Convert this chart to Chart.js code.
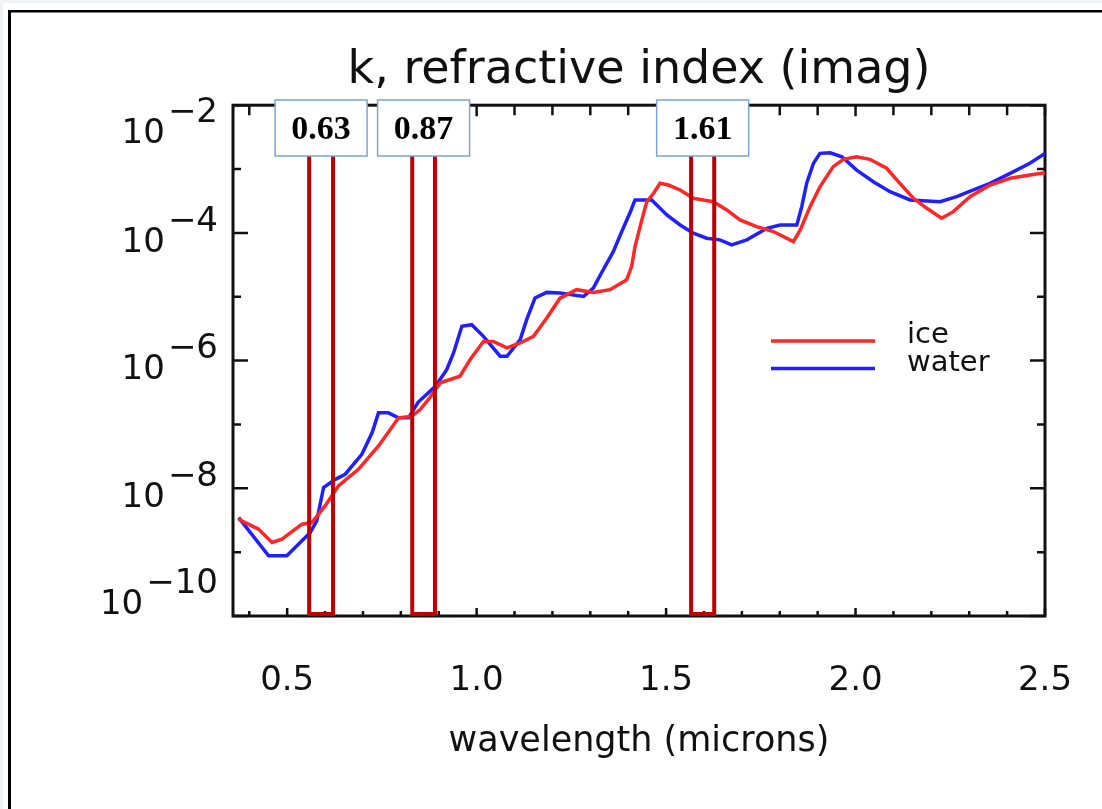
<!DOCTYPE html>
<html><head><meta charset="utf-8">
<script src="https://cdn.jsdelivr.net/npm/chart.js@4.4.0/dist/chart.umd.min.js"></script>
<style>html,body{margin:0;padding:0;background:#eef2f4;overflow:hidden}canvas{display:block}</style>
</head><body><canvas id="c" width="1102" height="809"></canvas>
<script>
// ---- data ----
const iceWavelength = [0.372,0.389,0.424,0.460,0.486,0.539,0.565,0.600,0.635,0.688,0.741,0.794,0.829,0.851,0.873,0.904,0.956,0.983,1.018,1.044,1.080,1.115,1.150,1.185,1.220,1.264,1.308,1.352,1.396,1.409,1.418,1.436,1.449,1.467,1.484,1.506,1.537,1.572,1.598,1.625,1.660,1.695,1.739,1.783,1.836,1.854,1.880,1.906,1.941,1.968,2.003,2.038,2.082,2.117,2.153,2.188,2.227,2.258,2.302,2.355,2.408,2.460,2.500];
const iceK = [3.3e-9,2.9e-9,2.3e-9,1.42e-9,1.6e-9,2.74e-9,2.91e-9,5.3e-9,1.09e-8,1.98e-8,4.6e-8,1.27e-7,1.35e-7,1.71e-7,2.46e-7,4.5e-7,5.7e-7,1.04e-6,2.0e-6,2.0e-6,1.58e-6,1.89e-6,2.4e-6,4.65e-6,9.5e-6,1.29e-5,1.17e-5,1.29e-5,1.85e-5,2.97e-5,6.1e-5,1.6e-4,3.08e-4,4.17e-4,5.98e-4,5.62e-4,4.7e-4,3.48e-4,3.28e-4,3.08e-4,2.29e-4,1.6e-4,1.25e-4,1.05e-4,7.3e-5,1.11e-4,2.58e-4,5.28e-4,1.09e-3,1.42e-3,1.56e-3,1.42e-3,1.03e-3,5.98e-4,3.48e-4,2.43e-4,1.7e-4,2.15e-4,3.69e-4,5.62e-4,7.16e-4,8.05e-4,8.75e-4];
const waterWavelength = [0.372,0.451,0.499,0.561,0.578,0.596,0.627,0.653,0.697,0.724,0.741,0.767,0.794,0.820,0.846,0.891,0.921,0.939,0.961,0.987,1.018,1.062,1.080,1.115,1.132,1.154,1.185,1.220,1.282,1.308,1.330,1.360,1.385,1.405,1.418,1.462,1.502,1.537,1.572,1.607,1.642,1.673,1.713,1.766,1.801,1.845,1.858,1.871,1.889,1.906,1.933,1.964,2.003,2.047,2.091,2.144,2.223,2.267,2.311,2.355,2.408,2.460,2.500];
const waterK = [3.48e-9,8.75e-10,8.75e-10,2.03e-9,3.09e-9,1.03e-8,1.38e-8,1.66e-8,3.4e-8,7.4e-8,1.52e-7,1.52e-7,1.27e-7,1.27e-7,2.24e-7,3.96e-7,7.2e-7,1.32e-6,3.44e-6,3.65e-6,2.4e-6,1.17e-6,1.17e-6,2.13e-6,4.38e-6,9.55e-6,1.17e-5,1.14e-5,1.01e-5,1.37e-5,2.4e-5,5.0e-5,1.12e-4,2.09e-4,3.28e-4,3.28e-4,1.91e-4,1.33e-4,9.9e-5,8.26e-5,7.78e-5,6.49e-5,7.78e-5,1.18e-4,1.33e-4,1.33e-4,2.58e-4,5.98e-4,1.23e-3,1.76e-3,1.8e-3,1.56e-3,9.64e-4,6.34e-4,4.42e-4,3.28e-4,3.08e-4,3.69e-4,4.7e-4,5.98e-4,8.57e-4,1.23e-3,1.76e-3];
const seriesNames = ['ice','water'];
const xTickValues = [0.5,1.0,1.5,2.0,2.5];
const xMinorTickValues = [0.4,0.6,0.7,0.8,0.9,1.1,1.2,1.3,1.4,1.6,1.7,1.8,1.9,2.1,2.2,2.3,2.4];
const yDecadeExponents = [-2,-3,-4,-5,-6,-7,-8,-9,-10];
const yLabelExponents = [-2,-4,-6,-8,-10];
const bandLabels = ['0.63','0.87','1.61'];
const bandStart = [0.558,0.830,1.566];
const bandEnd = [0.621,0.890,1.627];

const FONT = "'DejaVu Sans', sans-serif";
const INK = '#111';

const framePlugin = {
  id: 'frame',
  beforeDraw(chart) {
    const {ctx, width, height} = chart;
    ctx.save();
    ctx.fillStyle = '#eef2f4'; ctx.fillRect(0, 0, width, height);
    ctx.fillStyle = '#ffffff'; ctx.fillRect(3, 3, width, height);
    ctx.fillStyle = '#000'; ctx.fillRect(8, 10, width, 2.5); ctx.fillRect(8, 10, 3, height);
    ctx.restore();
  },
  beforeDatasetsDraw(chart) {
    const {ctx, chartArea: a} = chart;
    const xs = chart.scales.x, ys = chart.scales.y;
    ctx.save();
    ctx.strokeStyle = INK; ctx.lineWidth = 2.5; ctx.lineCap = 'butt';
    ctx.beginPath();
    const tickX = (v, len, lenTop) => {
      const px = xs.getPixelForValue(v);
      ctx.moveTo(px, a.bottom); ctx.lineTo(px, a.bottom - len);
      ctx.moveTo(px, a.top); ctx.lineTo(px, a.top + lenTop);
    };
    xMinorTickValues.forEach(v => tickX(v, 5, 10));
    xTickValues.forEach(v => tickX(v, 8, 11));
    yDecadeExponents.forEach(e => {
      const py = ys.getPixelForValue(Math.pow(10, e));
      const len = (e % 2 === 0) ? 15 : 8;
      ctx.moveTo(a.left, py); ctx.lineTo(a.left + len, py);
      ctx.moveTo(a.right, py); ctx.lineTo(a.right - len, py);
    });
    ctx.stroke();
    ctx.lineWidth = 3;
    ctx.strokeRect(a.left, a.top, a.right - a.left, a.bottom - a.top);
    // y labels 10^e with full-size raised exponent
    ctx.fillStyle = INK;
    ctx.font = '34px ' + FONT;
    ctx.textBaseline = 'middle';
    yLabelExponents.forEach(e => {
      const py = ys.getPixelForValue(Math.pow(10, e));
      let baseC = py + 10, expC = py - 11;
      const blockTop = expC - 13, blockBottom = baseC + 13;
      if (blockTop < a.top - 5) { const s = a.top - 5 - blockTop; baseC += s; expC += s; }
      if (blockBottom > a.bottom + 2) { const s = blockBottom - (a.bottom + 2); baseC -= s; expC -= s; }
      const expText = '\u2212' + Math.abs(e);
      const right = 218;
      ctx.textAlign = 'right';
      ctx.fillText(expText, right, expC);
      const w = ctx.measureText(expText).width;
      ctx.fillText('10', right - w - 3, baseC);
    });
    ctx.restore();
  },
  afterDatasetsDraw(chart) {
    const {ctx, chartArea: a} = chart;
    const xs = chart.scales.x;
    ctx.save();
    // band rectangles
    ctx.strokeStyle = '#c00000'; ctx.lineWidth = 4;
    bandLabels.forEach((lab, i) => {
      const x0 = xs.getPixelForValue(bandStart[i]), x1 = xs.getPixelForValue(bandEnd[i]);
      ctx.strokeRect(x0, 150, x1 - x0, a.bottom - 2 - 150);
    });
    // label boxes
    bandLabels.forEach((lab, i) => {
      const x0 = xs.getPixelForValue(bandStart[i]), x1 = xs.getPixelForValue(bandEnd[i]);
      const cx = (x0 + x1) / 2;
      ctx.fillStyle = '#fff';
      ctx.fillRect(cx - 46, 100, 92, 56);
      ctx.strokeStyle = '#7fa3d3'; ctx.lineWidth = 1.5;
      ctx.strokeRect(cx - 46, 100, 92, 56);
      ctx.fillStyle = '#000';
      ctx.font = "bold 34px 'Liberation Serif', serif";
      ctx.textAlign = 'center'; ctx.textBaseline = 'middle';
      ctx.fillText(lab, cx, 130);
    });
    // legend
    ctx.font = '29px ' + FONT;
    ctx.textAlign = 'left'; ctx.textBaseline = 'alphabetic';
    chart.data.datasets.forEach((ds, i) => {
      const y = 341 + i * 27.5;
      ctx.strokeStyle = ds.borderColor; ctx.lineWidth = 3.5;
      ctx.beginPath(); ctx.moveTo(771, y); ctx.lineTo(875, y); ctx.stroke();
      ctx.fillStyle = INK;
      ctx.fillText(ds.label, 907, y + 2);
    });
    ctx.restore();
  }
};

new Chart(document.getElementById('c'), {
  type: 'line',
  data: {
    datasets: [
      { label: seriesNames[0], data: iceWavelength.map((x, i) => ({x, y: iceK[i]})),
        borderColor: 'rgb(255,38,38)', borderWidth: 3.5, pointRadius: 0, tension: 0, fill: false },
      { label: seriesNames[1], data: waterWavelength.map((x, i) => ({x, y: waterK[i]})),
        borderColor: 'rgb(32,32,255)', borderWidth: 3.5, pointRadius: 0, tension: 0, fill: false }
    ]
  },
  options: {
    responsive: false, animation: false, devicePixelRatio: 1,
    layout: { padding: { left: 0, right: 57, top: 0, bottom: 0 } },
    plugins: {
      legend: { display: false },
      tooltip: { enabled: false },
      title: { display: true, fullSize: false, text: 'k, refractive index (imag)', color: INK,
        font: { family: FONT, size: 46, weight: 'normal' }, padding: { top: 43, bottom: 7 } }
    },
    scales: {
      x: {
        type: 'linear', min: 0.357, max: 2.5,
        afterBuildTicks: s => { s.ticks = xTickValues.map(v => ({value: v})); },
        afterFit: s => { s.height = 193; s.paddingLeft = 0; s.paddingRight = 0; },
        grid: { display: false, drawTicks: false },
        border: { display: false },
        ticks: { color: INK, font: { family: FONT, size: 34 }, padding: 45, maxRotation: 0, autoSkip: false,
          callback: v => Number(v).toFixed(1) },
        title: { display: true, text: 'wavelength (microns)', color: INK,
          font: { family: FONT, size: 35 }, padding: { top: 0, bottom: 46 } }
      },
      y: {
        type: 'logarithmic', min: 1e-10, max: 1e-2,
        afterBuildTicks: s => { s.ticks = yDecadeExponents.map(e => ({value: Math.pow(10, e)})); },
        afterFit: s => { s.width = 233; s.paddingTop = 0; s.paddingBottom = 0; },
        grid: { display: false, drawTicks: false },
        border: { display: false },
        ticks: { display: false }
      }
    }
  },
  plugins: [framePlugin]
});
</script></body></html>
